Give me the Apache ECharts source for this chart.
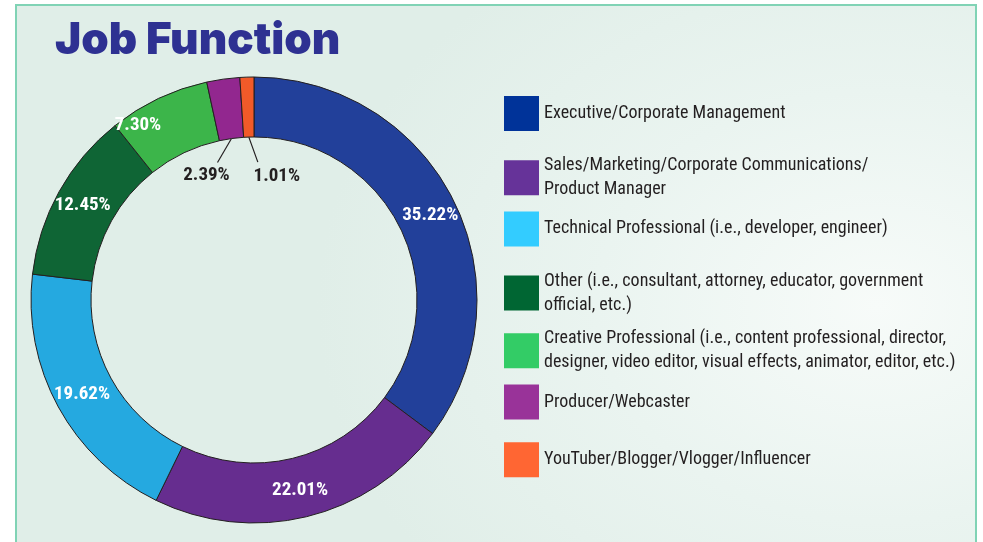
<!DOCTYPE html>
<html>
<head>
<meta charset="utf-8">
<script src="https://cdn.jsdelivr.net/npm/echarts@6/dist/echarts.min.js"></script>
<style>
  html, body { margin: 0; padding: 0; background: #fff; }
  #frame {
    position: absolute; left: 15px; top: 4px; width: 958px; height: 560px;
    border: 2px solid #80d3b5;
    background: radial-gradient(ellipse 560px 430px at 860px 300px, #f7fbf9 0%, #eaf4f0 50%, #e0eee8 100%);
  }
  #chart { position: absolute; left: 0; top: 0; width: 983px; height: 542px; }
</style>
</head>
<body>
<div id="frame"></div>
<div id="chart"></div>
<script>
// job function split, clockwise from 12 o'clock
const categories = [
  'Executive/Corporate Management',
  'Sales/Marketing/Corporate Communications/Product Manager',
  'Technical Professional (i.e., developer, engineer)',
  'Other (i.e., consultant, attorney, educator, government official, etc.)',
  'Creative Professional (i.e., content professional, director, designer, video editor, visual effects, animator, editor, etc.)',
  'Producer/Webcaster',
  'YouTuber/Blogger/Vlogger/Influencer'
];
const legendLabels = [
  'Executive/Corporate Management',
  'Sales/Marketing/Corporate Communications/\nProduct Manager',
  'Technical Professional (i.e., developer, engineer)',
  'Other (i.e., consultant, attorney, educator, government\nofficial, etc.)',
  'Creative Professional (i.e., content professional, director,\ndesigner, video editor, visual effects, animator, editor, etc.)',
  'Producer/Webcaster',
  'YouTuber/Blogger/Vlogger/Influencer'
];
const shares = [35.22, 22.01, 19.62, 12.45, 7.30, 2.39, 1.01];
const sliceColors = ['#22409a', '#662d8f', '#25a9e0', '#0f6535', '#3cb54a', '#92278f', '#f15a29'];
const keyColors = ['#003399', '#663399', '#33ccff', '#006633', '#33cc66', '#993399', '#ff6633'];

const CX = 254, CY = 300, R_IN = 163, R_OUT = 223;
const narrow = '"Roboto Condensed", "DejaVu Sans Condensed", sans-serif';
const ink = '#231f20';

// nudges for labels that sit off the ring middle
const labelNudge = { 0: [1, 3], 4: [-32, 2] };
// small slices get labels inside the hole: [line end dx, dy, label dx, dy]
const holeLabel = { 5: [-14, 24, -25, 37], 6: [9, 25, 28, 39] };

const total = shares.reduce((a, b) => a + b, 0);
const midAngle = i => {
  let before = 0;
  for (let k = 0; k < i; k++) before += shares[k];
  return (before + shares[i] / 2) / total * Math.PI * 2;
};

const chart = echarts.init(document.getElementById('chart'));

const legends = categories.map((name, i) => ({
  orient: 'vertical',
  left: 504,
  top: 96 + i * 57.7,
  padding: 0,
  itemWidth: 35,
  itemHeight: 35,
  icon: 'rect',
  selectedMode: false,
  itemStyle: { borderWidth: 0 },
  formatter: () => legendLabels[i],
  textStyle: { fontFamily: narrow, fontSize: 18, lineHeight: 24, color: ink },
  data: [{ name: name, itemStyle: { color: keyColors[i], borderWidth: 0 } }]
}));

chart.setOption({
  animation: false,
  title: {
    text: 'Job Function',
    left: 55,
    top: 19,
    padding: 0,
    textStyle: { fontFamily: 'Inter', fontWeight: 900, fontSize: 44, color: '#2e3192' }
  },
  legend: legends,
  series: [{
    type: 'pie',
    center: [CX, CY],
    radius: [R_IN, R_OUT],
    startAngle: 90,
    clockwise: true,
    avoidLabelOverlap: false,
    itemStyle: { borderColor: ink, borderWidth: 1 },
    label: {
      position: 'inside',
      formatter: p => shares[p.dataIndex].toFixed(2) + '%',
      fontFamily: narrow,
      fontWeight: 'bold',
      fontSize: 19,
      color: '#fff'
    },
    labelLayout: p => {
      const h = holeLabel[p.dataIndex];
      if (!h) return {};
      const a = midAngle(p.dataIndex);
      const sx = CX + R_IN * Math.sin(a), sy = CY - R_IN * Math.cos(a);
      const ex = sx + h[0], ey = sy + h[1];
      return {
        x: sx + h[2], y: sy + h[3], align: 'center', verticalAlign: 'middle',
        labelLinePoints: [[sx, sy], [(sx + ex) / 2, (sy + ey) / 2], [ex, ey]]
      };
    },
    data: categories.map((name, i) => {
      const item = { name: name, value: shares[i], itemStyle: { color: sliceColors[i] } };
      if (labelNudge[i]) item.label = { offset: labelNudge[i] };
      if (holeLabel[i]) {
        item.label = { position: 'outside', color: ink };
        item.labelLine = { show: true, length: 5, length2: 5, lineStyle: { color: ink, width: 1.2 } };
      }
      return item;
    })
  }]
});
</script>
</body>
</html>
